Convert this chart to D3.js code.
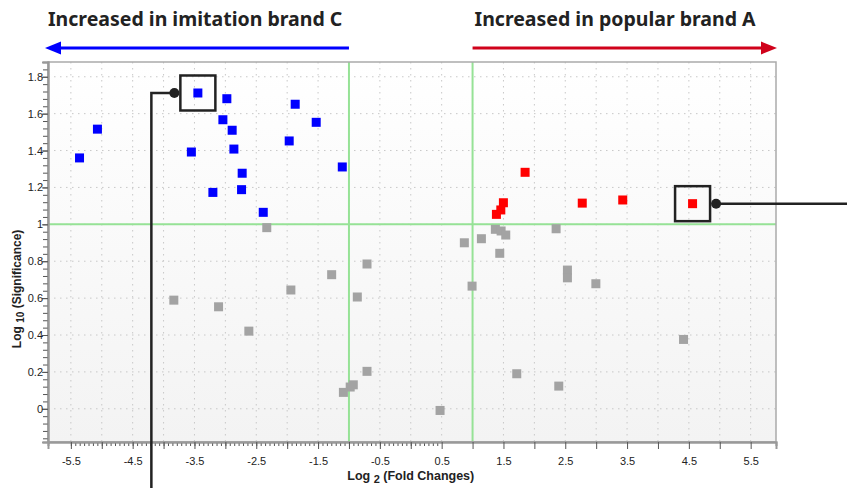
<!DOCTYPE html>
<html>
<head>
<meta charset="utf-8">
<script src="https://cdn.jsdelivr.net/npm/d3@7"></script>
<style>
    body { margin: 0; background: #fff; }
    svg { display: block; }
    text { font-family: "Liberation Sans", Arial, sans-serif; }
</style>
</head>
<body>
<svg id="Volcano"></svg>
<script>
// log2 fold change / log10 significance
let blueX = [-5.36, -5.07, -3.55, -3.445, -2.976, -3.04, -2.89, -2.862, -2.728, -2.738, -3.202, -2.387, -1.967, -1.87, -1.53, -1.108];
let blueY = [1.36, 1.516, 1.392, 1.712, 1.681, 1.567, 1.51, 1.408, 1.277, 1.188, 1.173, 1.065, 1.452, 1.651, 1.553, 1.311];

let redX = [1.85, 1.499, 1.457, 1.386, 2.775, 3.43, 4.56];
let redY = [1.282, 1.117, 1.078, 1.054, 1.115, 1.132, 1.112];

let grayX = [-2.33, -3.834, -3.11, -2.62, -1.94, -1.28, -0.708, -0.865, -0.708, -0.98, -0.93, -1.09, 0.474, 0.992, 1.44, 1.715, 2.395, 2.535, 2.535, 1.369, 1.462, 1.537, 1.143, 0.867, 2.352, 2.995, 4.414];
let grayY = [0.982, 0.589, 0.553, 0.421, 0.644, 0.727, 0.785, 0.606, 0.203, 0.118, 0.13, 0.089, -0.009, 0.665, 0.843, 0.19, 0.123, 0.752, 0.71, 0.973, 0.964, 0.942, 0.922, 0.9, 0.976, 0.678, 0.376];

let xTickLabels = [-5.5, -4.5, -3.5, -2.5, -1.5, -0.5, 0.5, 1.5, 2.5, 3.5, 4.5, 5.5];
let yTickLabels = [0, 0.2, 0.4, 0.6, 0.8, 1, 1.2, 1.4, 1.6, 1.8];
let thresholdsX = [-1, 1];
let thresholdY = 1;
let titles = ["Increased in imitation brand C", "Increased in popular brand A"];
let highlighted = [{ series: "blue", index: 3, side: "left" }, { series: "red", index: 6, side: "right" }];

function getConfig() {
    let width = 847;
    let height = 488;
    let margin = { top: 62, bottom: 46, left: 48, right: 71 };
    let container = d3.select("#Volcano")
        .attr("width", width)
        .attr("height", height);
    return { width, height, margin, container };
}

function getScales(config) {
    let { width, height, margin } = config;
    let xScale = d3.scaleLinear()
        .domain([-5.87, 5.91])
        .range([margin.left, width - margin.right]);
    let yScale = d3.scaleLinear()
        .domain([-0.18, 1.88])
        .range([height - margin.bottom, margin.top]);
    return { xScale, yScale };
}

function drawFrame(config, scales) {
    let { container } = config;
    let { xScale, yScale } = scales;
    let [x0, x1] = xScale.range();
    let [y0, y1] = yScale.range();

    let defs = container.append("defs");
    let grad = defs.append("linearGradient")
        .attr("id", "bg").attr("x1", 0).attr("y1", 0).attr("x2", 0).attr("y2", 1);
    grad.append("stop").attr("offset", "0%").attr("stop-color", "#ffffff");
    grad.append("stop").attr("offset", "100%").attr("stop-color", "#f3f3f3");

    container.append("rect")
        .attr("x", x0).attr("y", y1)
        .attr("width", x1 - x0).attr("height", y0 - y1)
        .attr("fill", "url(#bg)");

    // dotted grid
    let gx = d3.range(-5.5, 6, 0.5);
    container.append("g").selectAll("line").data(gx).enter().append("line")
        .attr("x1", d => xScale(d)).attr("x2", d => xScale(d))
        .attr("y1", y1).attr("y2", y0)
        .attr("stroke", "#c8c8c8").attr("stroke-dasharray", "1.5,4.5");
    container.append("g").selectAll("line").data(yTickLabels).enter().append("line")
        .attr("y1", d => yScale(d)).attr("y2", d => yScale(d))
        .attr("x1", x0).attr("x2", x1)
        .attr("stroke", "#c8c8c8").attr("stroke-dasharray", "1.5,4.5");

    // threshold lines
    container.append("g").selectAll("line").data(thresholdsX).enter().append("line")
        .attr("x1", d => xScale(d)).attr("x2", d => xScale(d))
        .attr("y1", y1).attr("y2", y0)
        .attr("stroke", "#96e296").attr("stroke-width", 2);
    container.append("line")
        .attr("x1", x0).attr("x2", x1)
        .attr("y1", yScale(thresholdY)).attr("y2", yScale(thresholdY))
        .attr("stroke", "#96e296").attr("stroke-width", 2);

    // frame
    container.append("rect")
        .attr("x", x0).attr("y", y1)
        .attr("width", x1 - x0).attr("height", y0 - y1)
        .attr("fill", "none").attr("stroke", "#aaa").attr("stroke-width", 1.5);
}

function drawAxes(config, scales) {
    let { container } = config;
    let { xScale, yScale } = scales;
    let [x0, x1] = xScale.range();
    let [y0, y1] = yScale.range();

    // x minor ticks
    let minorX = d3.range(0, 84).map(i => -5.5 + i * 0.5 / 7).filter(d => d > -5.87 && d < 5.91);
    let xMinor = d3.axisBottom(xScale).tickValues(minorX).tickSize(4).tickFormat("");
    let xMajor = d3.axisBottom(xScale).tickValues(d3.range(-5.5, 6, 0.5)).tickSize(7)
        .tickFormat(d => xTickLabels.includes(d) ? d : "");

    [xMinor, xMajor].forEach(ax => {
        let g = container.append("g")
            .attr("transform", `translate(0,${y0})`)
            .call(ax);
        g.select(".domain").attr("stroke", "#999").attr("stroke-width", 2);
        g.selectAll(".tick line").attr("stroke", "#555");
        g.selectAll("text").attr("fill", "#222").style("font-size", "11px").attr("dy", "1.2em");
    });

    let minorY = d3.range(0, 60).map(i => -0.16 + i * 0.04).filter(d => d > -0.18 && d < 1.88);
    let yMinor = d3.axisLeft(yScale).tickValues(minorY).tickSize(5).tickFormat("");
    let yMajor = d3.axisLeft(yScale).tickValues(yTickLabels).tickSize(6)
        .tickFormat(d => String(+d.toFixed(1)));

    [yMinor, yMajor].forEach(ax => {
        let g = container.append("g")
            .attr("transform", `translate(${x0},0)`)
            .call(ax);
        g.select(".domain").attr("stroke", "#999").attr("stroke-width", 2);
        g.selectAll(".tick line").attr("stroke", "#555");
        g.selectAll("text").attr("fill", "#222").style("font-size", "11px").attr("x", -5);
    });

    // axis titles
    let xl = container.append("text")
        .attr("x", xScale(0)).attr("y", 480)
        .attr("text-anchor", "middle")
        .style("font-size", "12.5px").style("font-weight", "bold").attr("fill", "#222");
    xl.append("tspan").text("Log ");
    xl.append("tspan").text("2").style("font-size", "11px").attr("dy", 3);
    xl.append("tspan").text(" (Fold Changes)").attr("dy", -3);

    let yl = container.append("text")
        .attr("transform", `translate(21,${yScale(0.65)}) rotate(-90)`)
        .attr("text-anchor", "middle")
        .style("font-size", "12px").style("font-weight", "bold").attr("fill", "#222");
    yl.append("tspan").text("Log ");
    yl.append("tspan").text("10").style("font-size", "10px").attr("dy", 3);
    yl.append("tspan").text(" (Significance)").attr("dy", -3);
}

function drawPoints(config, scales) {
    let { container } = config;
    let { xScale, yScale } = scales;
    let size = 9;
    let groups = [
        { xs: grayX, ys: grayY, color: "#a3a3a3" },
        { xs: blueX, ys: blueY, color: "#0000ff" },
        { xs: redX, ys: redY, color: "#ff0000" },
    ];
    groups.forEach(grp => {
        container.append("g").selectAll("rect")
            .data(grp.xs.map((x, i) => ({ x, y: grp.ys[i] })))
            .enter().append("rect")
            .attr("x", d => xScale(d.x) - size / 2)
            .attr("y", d => yScale(d.y) - size / 2)
            .attr("width", size).attr("height", size)
            .attr("fill", grp.color);
    });
}

function drawHeader(config, scales) {
    let { container, width } = config;
    let { xScale, yScale } = scales;
    let [x0, x1] = xScale.range();
    let ay = 48;
    let arrows = [
        { from: xScale(thresholdsX[0]), to: x0 - 3, color: "#0000ff" },
        { from: xScale(thresholdsX[1]), to: x1 + 1, color: "#d0021b" },
    ];
    arrows.forEach(a => {
        let dir = a.to < a.from ? -1 : 1;
        container.append("line")
            .attr("x1", a.from).attr("x2", a.to - dir * 12)
            .attr("y1", ay).attr("y2", ay)
            .attr("stroke", a.color).attr("stroke-width", 3);
        container.append("path")
            .attr("d", `M${a.to},${ay} L${a.to - dir * 16},${ay - 6.5} L${a.to - dir * 16},${ay + 6.5} Z`)
            .attr("fill", a.color);
    });

    container.append("text")
        .attr("x", x0).attr("y", 26)
        .style("font-family", "'Noto Sans', sans-serif")
        .style("font-size", "19.5px").style("font-weight", "bold").attr("fill", "#222")
        .text(titles[0]);
    container.append("text")
        .attr("x", xScale(thresholdsX[1]) + 2).attr("y", 26)
        .style("font-family", "'Noto Sans', sans-serif")
        .style("font-size", "19.5px").style("font-weight", "bold").attr("fill", "#222")
        .text(titles[1]);
}

function drawCallouts(config, scales) {
    let { container, width, height } = config;
    let { xScale, yScale } = scales;
    let series = { blue: [blueX, blueY], red: [redX, redY] };
    let half = 17.5;
    highlighted.forEach(h => {
        let px = xScale(series[h.series][0][h.index]);
        let py = yScale(series[h.series][1][h.index]);
        container.append("rect")
            .attr("x", px - half).attr("y", py - half)
            .attr("width", half * 2).attr("height", half * 2)
            .attr("fill", "none").attr("stroke", "#222").attr("stroke-width", 2.5);
        let dx = h.side === "left" ? px - half - 6 : px + half + 6;
        container.append("circle")
            .attr("cx", dx).attr("cy", py).attr("r", 5)
            .attr("fill", "#222");
        let path = h.side === "left"
            ? `M${dx},${py} H${dx - 23} V${height}`
            : `M${dx},${py} H${width}`;
        container.append("path")
            .attr("d", path)
            .attr("fill", "none").attr("stroke", "#222").attr("stroke-width", 2.5);
    });
}

function drawChart() {
    let config = getConfig();
    let scales = getScales(config);
    drawFrame(config, scales);
    drawAxes(config, scales);
    drawPoints(config, scales);
    drawHeader(config, scales);
    drawCallouts(config, scales);
}

drawChart();
</script>
</body>
</html>
